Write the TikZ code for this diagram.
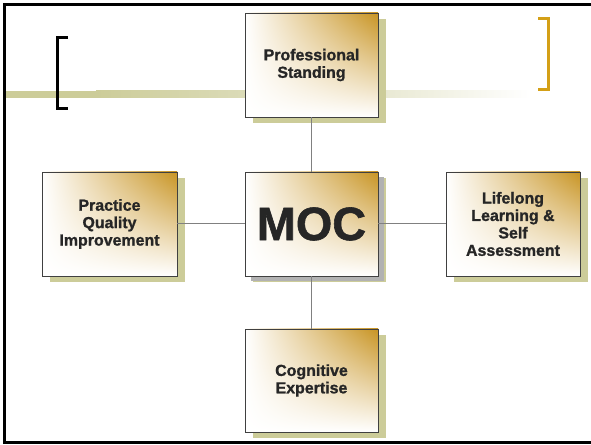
\documentclass[tikz,border=0pt]{standalone}
\usepackage{fontspec}
\setmainfont{Liberation Sans}[BoldFeatures={FakeBold=1.2}]
\usepackage{tikz}
\usetikzlibrary{shadows,shadings}
\definecolor{mocgold}{RGB}{200,148,35}
\definecolor{mocolive}{RGB}{204,204,153}
\definecolor{mocgray}{RGB}{178,178,178}
\definecolor{moctext}{RGB}{38,38,38}
\definecolor{mocbracket}{RGB}{212,160,23}
\tikzstyle{area}=[rectangle,draw=black!75,line width=0.8bp,minimum width=133bp,minimum height=104bp,
  upper right=mocgold,upper left=white,lower left=white,lower right=white,
  align=center,text=moctext,font=\fontsize{16}{17.5}\selectfont\bfseries,
  drop shadow={shadow xshift=8bp,shadow yshift=-6bp,fill=mocolive,opacity=1}]
\tikzstyle{hub}=[area,font=\fontsize{47}{47}\selectfont\bfseries,
  drop shadow={shadow xshift=6bp,shadow yshift=-5bp,fill=mocgray,opacity=1}]
\tikzstyle{link}=[draw=black!50,line width=1bp]

\begin{document}
\begin{tikzpicture}[line join=miter]
	\useasboundingbox (0bp,0bp) rectangle (591bp,445bp);
	%% frame and bands
	\draw [line width=3bp] (591bp,440.5bp) -- (4.5bp,440.5bp) -- (4.5bp,2.5bp) -- (591bp,2.5bp);
	\fill [mocolive] (6bp,347bp) rectangle (96bp,354bp);
	\shade [left color=mocolive,right color=mocolive!70] (96bp,347bp) rectangle (245bp,354bp);
	\shade [left color=mocolive!45,right color=white] (378bp,347bp) rectangle (530bp,354bp);
	\draw [line width=3.5bp] (68bp,407.5bp) -- (57.5bp,407.5bp) -- (57.5bp,336.5bp) -- (68bp,336.5bp);
	\draw [line width=3.5bp,draw=mocbracket] (538bp,426.5bp) -- (548.5bp,426.5bp) -- (548.5bp,355.5bp) -- (538bp,355.5bp);
	%%
	\node (Prof) at (311.5bp,380bp) [area] {Professional\\Standing};
	  \node (MOC) at (311.5bp,221bp) [hub] {MOC};
	  \node (PQI) at (109.5bp,221bp) [area,minimum width=135bp] {Practice\\Quality\\Improvement};
	  \node (LLSA) at (513bp,221bp) [area,minimum width=134bp] {Lifelong\\Learning \&\\Self\\Assessment};
	  \node (Cog) at (311.5bp,64.5bp) [area,minimum height=103bp] {Cognitive\\Expertise};
	  \draw [link] (Prof) -- (MOC);
	  \draw [link] (PQI) -- (MOC);
	  \draw [link] (MOC) -- (LLSA);
	  \draw [link] (MOC) -- (Cog);
	%
\end{tikzpicture}
\end{document}
